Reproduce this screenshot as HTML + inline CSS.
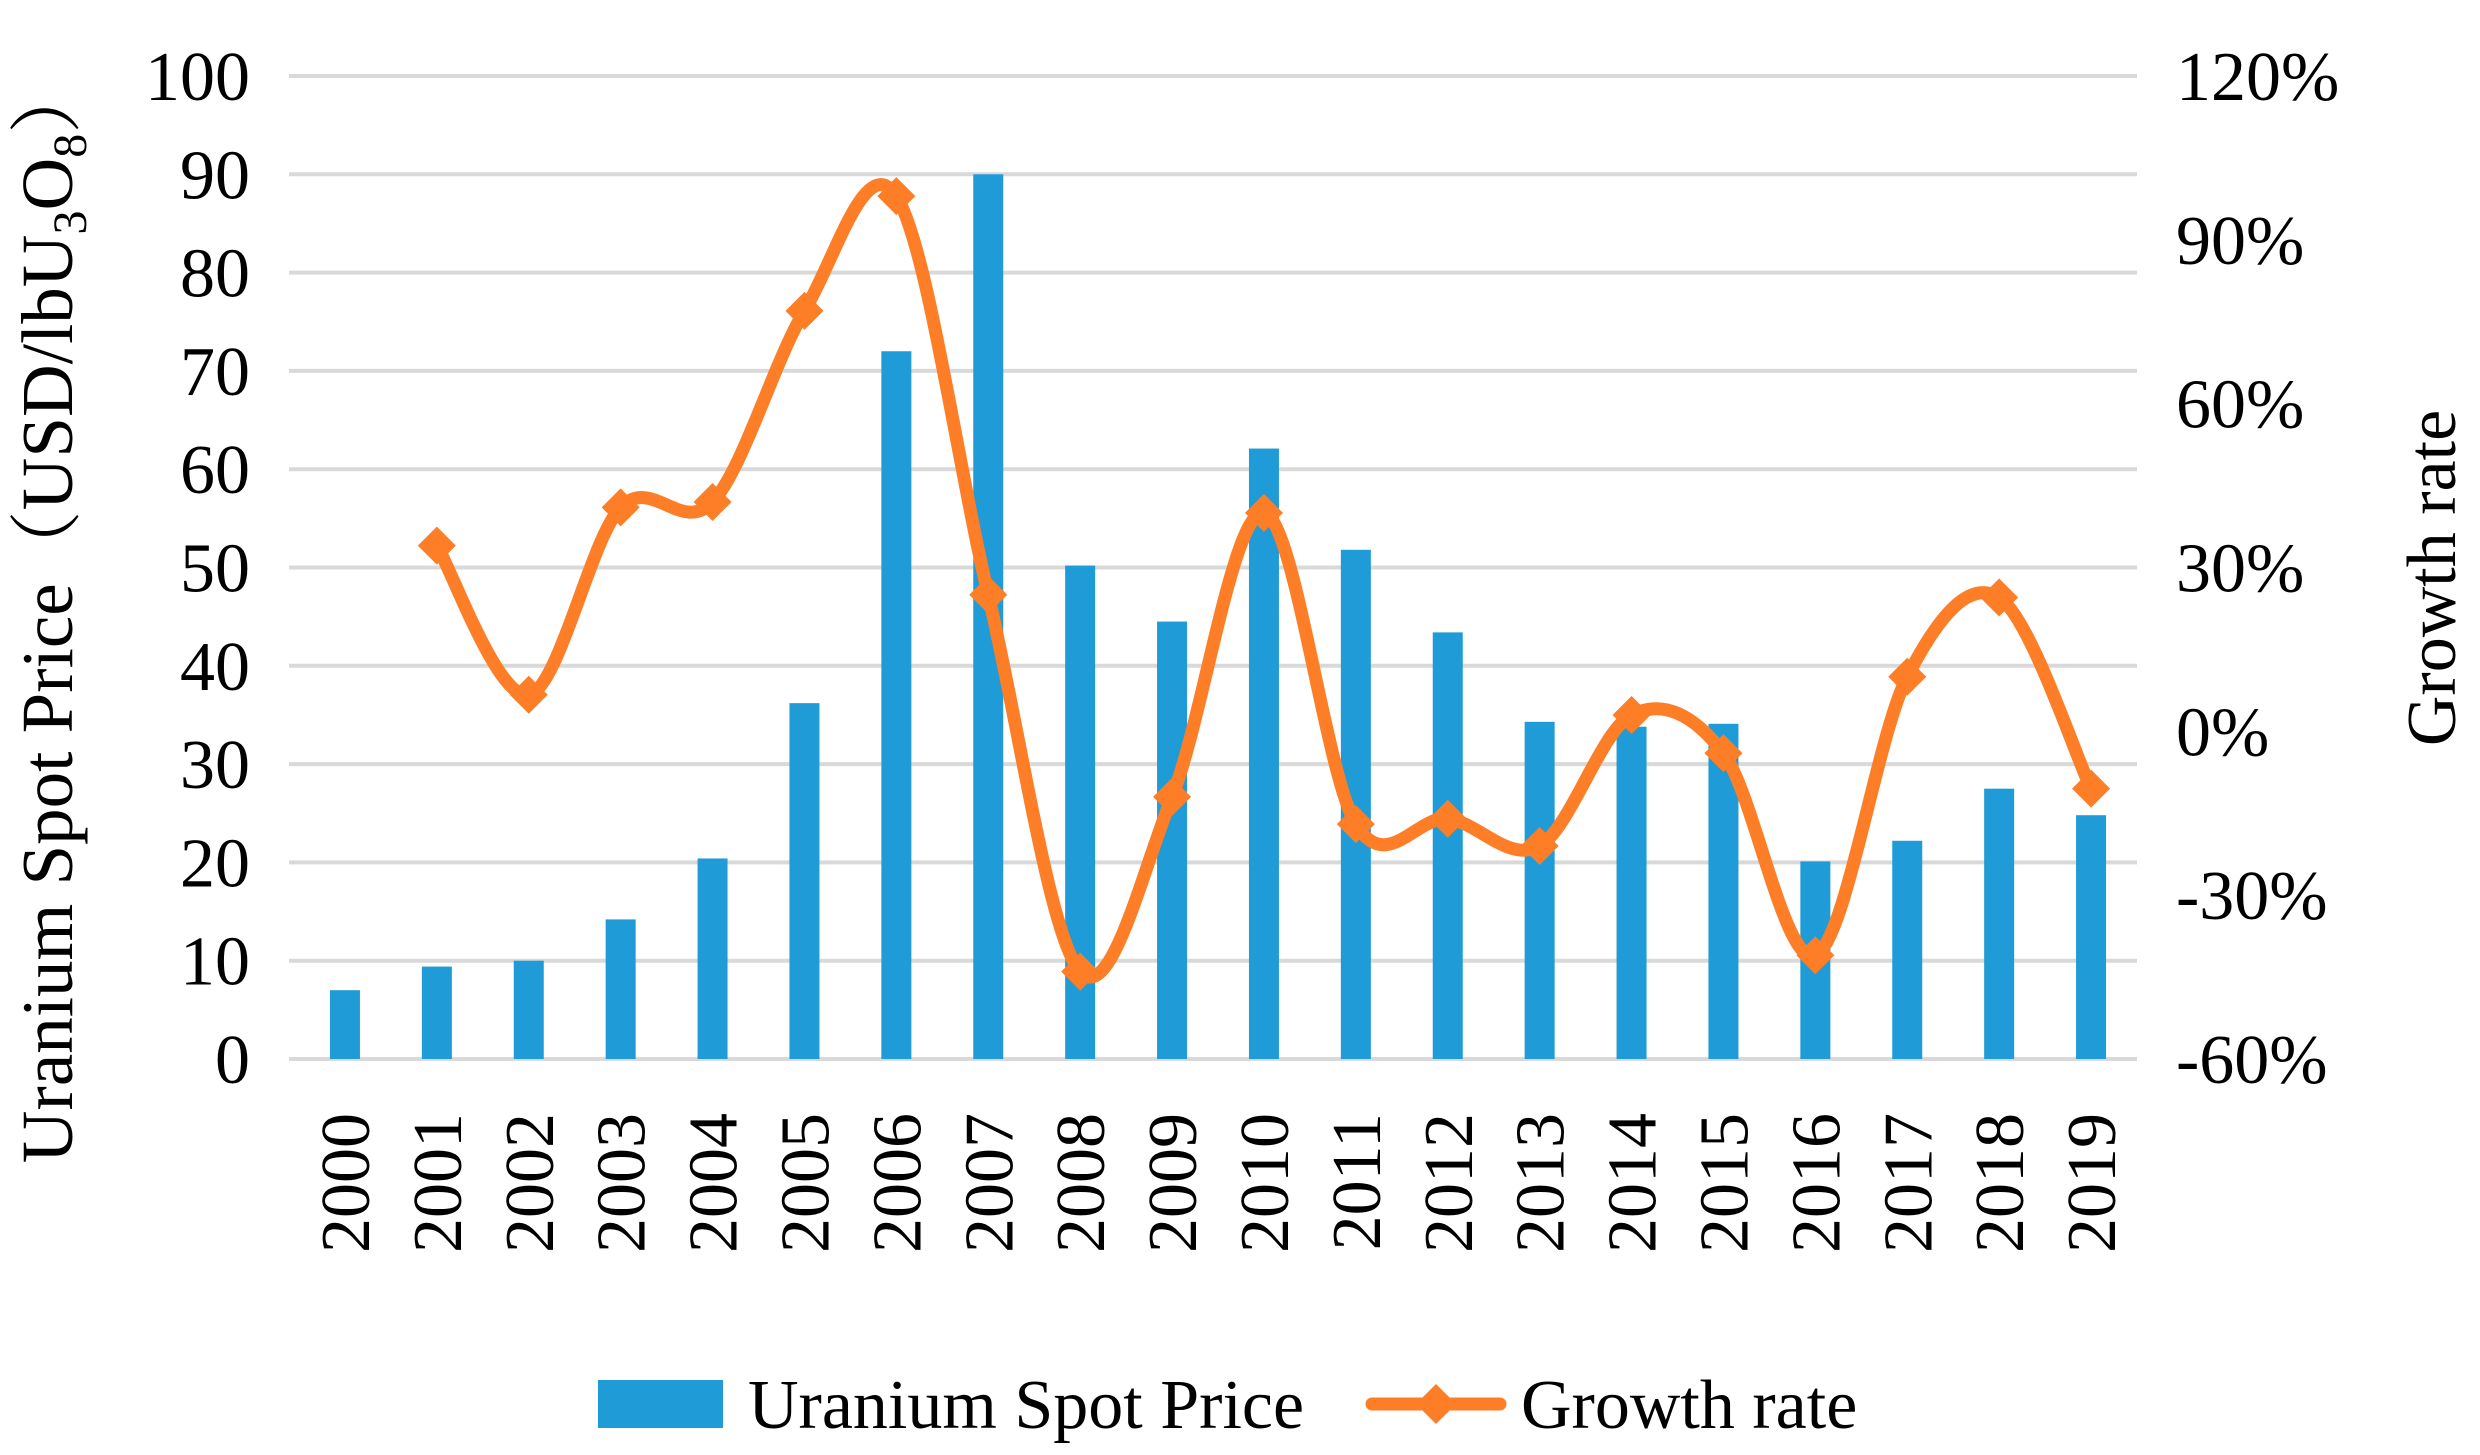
<!DOCTYPE html>
<html><head><meta charset="utf-8"><style>
html,body{margin:0;padding:0;background:#fff;}
svg{display:block;font-family:"Liberation Serif","Noto Serif CJK SC",serif;}
</style></head><body>
<svg id="chart" width="2480" height="1455" viewBox="0 0 2480 1455" xmlns="http://www.w3.org/2000/svg">
<g id="grid"></g>
<g id="bars"></g>
<g id="line"></g>
<g id="ticks" font-size="70" fill="#000"></g>
<text font-size="73" transform="translate(72,612) rotate(-90)" text-anchor="middle">Uranium Spot Price<tspan font-family="'Noto Serif CJK SC',serif">（</tspan>USD/lbU<tspan font-size="48" dy="14">3</tspan><tspan dy="-14">O</tspan><tspan font-size="48" dy="14">8</tspan><tspan dy="-14" font-family="'Noto Serif CJK SC',serif">）</tspan></text>
<text font-size="70" transform="translate(2455,578) rotate(-90)" text-anchor="middle">Growth rate</text>
<g>
<rect x="598" y="1380" width="125" height="48" fill="#1f9bd7"/>
<text x="748" y="1428" font-size="70">Uranium Spot Price</text>
<line x1="1372" y1="1404" x2="1500" y2="1404" stroke="#fd7e27" stroke-width="13" stroke-linecap="round"/>
<path d="M1436 1384 L1456 1404 L1436 1424 L1416 1404 Z" fill="#fd7e27"/>
<text x="1521" y="1428" font-size="70">Growth rate</text>
</g>
</svg>
<script>
const years = ["2000","2001","2002","2003","2004","2005","2006","2007","2008","2009","2010","2011","2012","2013","2014","2015","2016","2017","2018","2019"];
const prices = [7.0,9.4,10.0,14.2,20.4,36.2,72.0,90.0,50.2,44.5,62.1,51.8,43.4,34.3,33.8,34.1,20.1,22.2,27.5,24.8];
const growth = [null,34,6.7,41,42,77,98,25,-44,-12,40,-17,-16,-21,3,-4,-41,10,24.5,-10.5];
const leftTicks = [0,10,20,30,40,50,60,70,80,90,100];
const rightTicks = [-60,-30,0,30,60,90,120];

const NS="http://www.w3.org/2000/svg";
const L=299,R=2137,T=76,B=1059;
const bw=(R-L)/years.length;
const xC=i=>L+bw*(i+0.5);
const yL=v=>B-(v-0)/(100-0)*(B-T);
const yR=v=>B-(v+60)/(180)*(B-T);
function mk(tag,attrs,parent){const e=document.createElementNS(NS,tag);for(const k in attrs)e.setAttribute(k,attrs[k]);parent.appendChild(e);return e;}
const grid=document.getElementById('grid'),bars=document.getElementById('bars'),line=document.getElementById('line'),ticks=document.getElementById('ticks');
leftTicks.forEach(v=>{
  const g=mk('line',{x1:L-10,x2:R,y1:yL(v),y2:yL(v),stroke:'#d9d9d9','stroke-width':4},grid);
  
  
  const t=mk('text',{x:250,y:yL(v)+24,'text-anchor':'end'},ticks);
  t.textContent=v;
  
  
});
rightTicks.forEach(v=>{
  const t=mk('text',{x:2176,y:yR(v)+24,'text-anchor':'start'},ticks);
  t.textContent=v+'%';
  
  
});
years.forEach((y,i)=>{
  const b=mk('rect',{x:xC(i)-15,y:yL(prices[i]),width:30,height:B-yL(prices[i]),fill:'#1f9bd7'},bars);
  
  
  const t=mk('text',{transform:`translate(${xC(i)+24},1113) rotate(-90)`,'text-anchor':'end'},ticks);
  t.textContent=y;
  
  
});
const pts=[];growth.forEach((g,i)=>{if(g!==null)pts.push([xC(i),yR(g)]);});
let d=`M${pts[0][0]} ${pts[0][1]}`;
for(let i=0;i<pts.length-1;i++){
  const p0=pts[Math.max(0,i-1)],p1=pts[i],p2=pts[i+1],p3=pts[Math.min(pts.length-1,i+2)];
  const c1=[p1[0]+(p2[0]-p0[0])/6,p1[1]+(p2[1]-p0[1])/6];
  const c2=[p2[0]-(p3[0]-p1[0])/6,p2[1]-(p3[1]-p1[1])/6];
  d+=` C${c1[0]} ${c1[1]} ${c2[0]} ${c2[1]} ${p2[0]} ${p2[1]}`;
}
const path=mk('path',{d:d,fill:'none',stroke:'#fd7e27','stroke-width':13,'stroke-linejoin':'round'},line);


pts.forEach(p=>{
  const m=mk('path',{d:`M${p[0]} ${p[1]-19} L${p[0]+19} ${p[1]} L${p[0]} ${p[1]+19} L${p[0]-19} ${p[1]} Z`,fill:'#fd7e27'},line);
  
  
});
</script>
</body></html>
